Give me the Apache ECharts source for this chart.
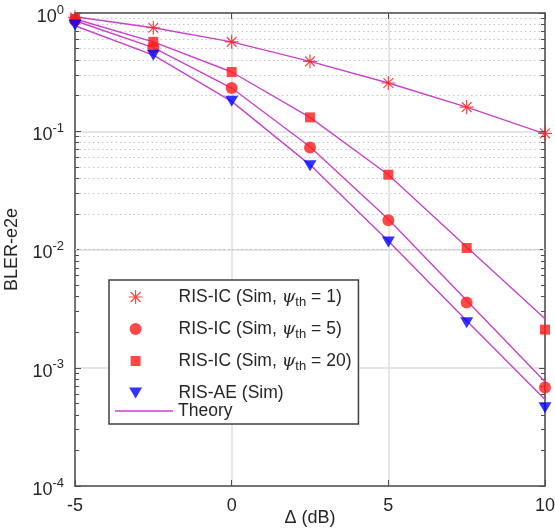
<!DOCTYPE html>
<html><head><meta charset="utf-8">
<script src="https://cdn.jsdelivr.net/npm/echarts@6/dist/echarts.min.js"></script>
<style>html,body{margin:0;padding:0;background:#fff}#c{width:555px;height:530px}</style>
</head><body><div id="c"></div>
<script>
// ---- data ----
const deltaDb = [-5, -2.5, 0, 2.5, 5, 7.5, 10];
const xTicks = [-5, 0, 5, 10];
const yDecades = [1e-4, 1e-3, 1e-2, 1e-1, 1];

const simPsi1  = [0.92, 0.75, 0.57, 0.39, 0.256, 0.16, 0.096];
const simPsi5  = [0.87, 0.51, 0.232, 0.073, 0.0177, 0.00357, 0.00068];
const simPsi20 = [0.89, 0.57, 0.317, 0.131, 0.0429, 0.0103, 0.0021];
const simAE    = [0.79, 0.44, 0.179, 0.051, 0.0116, 0.0024, 0.00046];

const theoryPsi1  = [0.93, 0.75, 0.57, 0.39, 0.256, 0.16, 0.095];
const theoryPsi5  = [0.86, 0.51, 0.232, 0.074, 0.0180, 0.0037, 0.00076];
const theoryPsi20 = [0.89, 0.57, 0.317, 0.131, 0.0429, 0.0105, 0.0026];
const theoryAE    = [0.78, 0.44, 0.179, 0.052, 0.0118, 0.0025, 0.00054];

const names = {
  p1: 'RIS-IC (Sim, ψ_th = 1)',
  p5: 'RIS-IC (Sim, ψ_th = 5)',
  p20: 'RIS-IC (Sim, ψ_th = 20)',
  ae: 'RIS-AE (Sim)',
  th: 'Theory'
};

// ---- build ----
const pair = (ys) => deltaDb.map((x, i) => [x, ys[i]]);
const FONT = 'Liberation Sans';
const TXT = '#262626';
const AXC = '#4d4d4d';
const THEORY_C = '#c843cc';
const RED = '#ff1a1a';
const BLUE = '#0000ff';

const minorVals = [];
for (let k = -4; k <= -1; k++) for (let m = 2; m <= 9; m++) minorVals.push(m * Math.pow(10, k));
const tickLen = 0.13; // in dB units (~4px)

const gridMarks = [];
minorVals.forEach(v => gridMarks.push({ yAxis: v, lineStyle: { color: '#c4c4c4', width: 1, type: [1.5, 3] } }));
minorVals.forEach(v => {
  gridMarks.push([{ coord: [-5, v], lineStyle: { color: AXC, width: 1, type: 'solid' } }, { coord: [-5 + tickLen, v] }]);
  gridMarks.push([{ coord: [10 - tickLen, v], lineStyle: { color: AXC, width: 1, type: 'solid' } }, { coord: [10, v] }]);
});

const starPath = 'path://M0,10L20,10M10,0L10,20M3,3L17,17M17,3L3,17';
// legend icons in a 58x14 frame, marker centred at x=20
const FRAME = 'M0,0L0,0M58,14L58,14';
const legStar = 'path://' + FRAME + 'M13,7L27,7M20,0L20,14M15,2L25,12M25,2L15,12';
const legCircle = 'path://' + FRAME + 'M14,7A6,6 0 1,0 26,7A6,6 0 1,0 14,7Z';
const legSquare = 'path://' + FRAME + 'M15,2L25,2L25,12L15,12Z';
const legTri = 'path://' + FRAME + 'M13.5,1.5L26.5,1.5L20,12.5Z';

function theory(ys) {
  return { name: names.th, type: 'line', data: pair(ys), showSymbol: false, symbol: 'none',
    lineStyle: { color: THEORY_C, width: 1.4 }, itemStyle: { color: THEORY_C }, z: 3, silent: true };
}

const legendText = {
  fontSize: 17.5, fontFamily: FONT, color: TXT,
  rich: {
    g: { fontSize: 17.5, fontFamily: 'DejaVu Serif', fontStyle: 'italic', color: TXT },
    sub: { fontSize: 13, fontFamily: FONT, color: TXT, padding: [11, 0, 0, 0] }
  }
};

const option = {
  animation: false,
  backgroundColor: '#fff',
  textStyle: { fontFamily: FONT, color: TXT },
  grid: { left: 75, right: 10, top: 13, bottom: 44, outerBoundsMode: 'none', containLabel: false },
  xAxis: [{
    type: 'value', min: -5, max: 10, interval: 5, position: 'bottom',
    name: 'Δ (dB)', nameLocation: 'middle', nameGap: 23, nameMoveOverlap: false,
    nameTextStyle: { fontSize: 18, color: TXT, fontFamily: FONT },
    axisLine: { show: true, onZero: false, lineStyle: { color: AXC, width: 1.5 } },
    axisTick: { show: true, inside: true, length: 6, lineStyle: { color: AXC } },
    axisLabel: { fontSize: 18, color: TXT, margin: 11, fontFamily: FONT },
    splitLine: { show: true, lineStyle: { color: '#dedede', width: 1.5 } }
  }, {
    type: 'value', min: -5, max: 10, interval: 5, position: 'top',
    axisLine: { show: true, onZero: false, lineStyle: { color: AXC, width: 1.5 } },
    axisTick: { show: true, inside: true, length: 6, lineStyle: { color: AXC } },
    axisLabel: { show: false }, splitLine: { show: false }
  }],
  yAxis: [{
    type: 'log', logBase: 10, min: 1e-4, max: 1, splitNumber: 4,
    name: 'BLER-e2e', nameLocation: 'middle', nameGap: 54, nameMoveOverlap: false,
    nameTextStyle: { fontSize: 18, color: TXT, fontFamily: FONT },
    axisLine: { show: true, onZero: false, lineStyle: { color: AXC, width: 1.5 } },
    axisTick: { show: true, inside: true, length: 6, lineStyle: { color: AXC } },
    axisLabel: {
      margin: 11, color: TXT,
      formatter: v => '{b|10}{s|' + Math.round(Math.log10(v)) + '}',
      rich: {
        b: { fontSize: 18, fontFamily: FONT, color: TXT, padding: [8, 0, 0, 0] },
        s: { fontSize: 13, fontFamily: FONT, color: TXT, padding: [0, 0, 6, 0] }
      }
    },
    splitLine: { show: true, lineStyle: { color: '#dedede', width: 1.5 } }
  }, {
    type: 'log', logBase: 10, min: 1e-4, max: 1, splitNumber: 4, position: 'right',
    axisLine: { show: true, onZero: false, lineStyle: { color: AXC, width: 1.5 } },
    axisTick: { show: true, inside: true, length: 6, lineStyle: { color: AXC } },
    axisLabel: { show: false }, splitLine: { show: false }
  }],
  legend: [{
    orient: 'vertical', left: 109, top: 280,
    padding: [8, 7, 22, 6], itemGap: 11, itemWidth: 58, itemHeight: 14,
    backgroundColor: '#fff', borderColor: '#404040', borderWidth: 1.5,
    textStyle: legendText,
    formatter: n => n.replace('ψ_th', '{g|ψ}{sub|th}'),
    data: [
      { name: names.p1, icon: legStar, itemStyle: { color: 'rgba(0,0,0,0)', borderColor: RED, borderWidth: 1.2 } },
      { name: names.p5, icon: legCircle, itemStyle: { color: RED, borderWidth: 0 } },
      { name: names.p20, icon: legSquare, itemStyle: { color: RED, borderWidth: 0 } },
      { name: names.ae, icon: legTri, itemStyle: { color: BLUE, borderWidth: 0 } }
    ]
  }, {
    orient: 'vertical', left: 115, top: 402, padding: 0,
    itemWidth: 58, itemHeight: 1.5,
    textStyle: { fontSize: 17.5, fontFamily: FONT, color: TXT },
    data: [{ name: names.th, icon: 'path://M0,0L58,0L58,1.5L0,1.5Z', itemStyle: { color: THEORY_C } }]
  }],
  series: [
    { name: 'grid', type: 'line', data: [], silent: true, z: 1,
      markLine: { silent: true, symbol: 'none', label: { show: false }, z: 1, animation: false, data: gridMarks } },
    theory(theoryPsi1), theory(theoryPsi5), theory(theoryPsi20), theory(theoryAE),
    { name: names.p1, type: 'scatter', data: pair(simPsi1), symbol: starPath, symbolSize: 14, z: 4,
      itemStyle: { color: 'rgba(255,0,0,0)', borderColor: RED, borderWidth: 1.2 } },
    { name: names.p5, type: 'scatter', data: pair(simPsi5), symbol: 'circle', symbolSize: 12, z: 4,
      itemStyle: { color: RED } },
    { name: names.p20, type: 'scatter', data: pair(simPsi20), symbol: 'rect', symbolSize: 10, z: 4,
      itemStyle: { color: RED } },
    { name: names.ae, type: 'scatter', data: pair(simAE), symbol: 'triangle', symbolRotate: 180, symbolSize: [13, 11], z: 4,
      itemStyle: { color: BLUE } }
  ]
};

const chart = echarts.init(document.getElementById('c'), null, { renderer: 'canvas' });
chart.setOption(option);
</script>
</body></html>
